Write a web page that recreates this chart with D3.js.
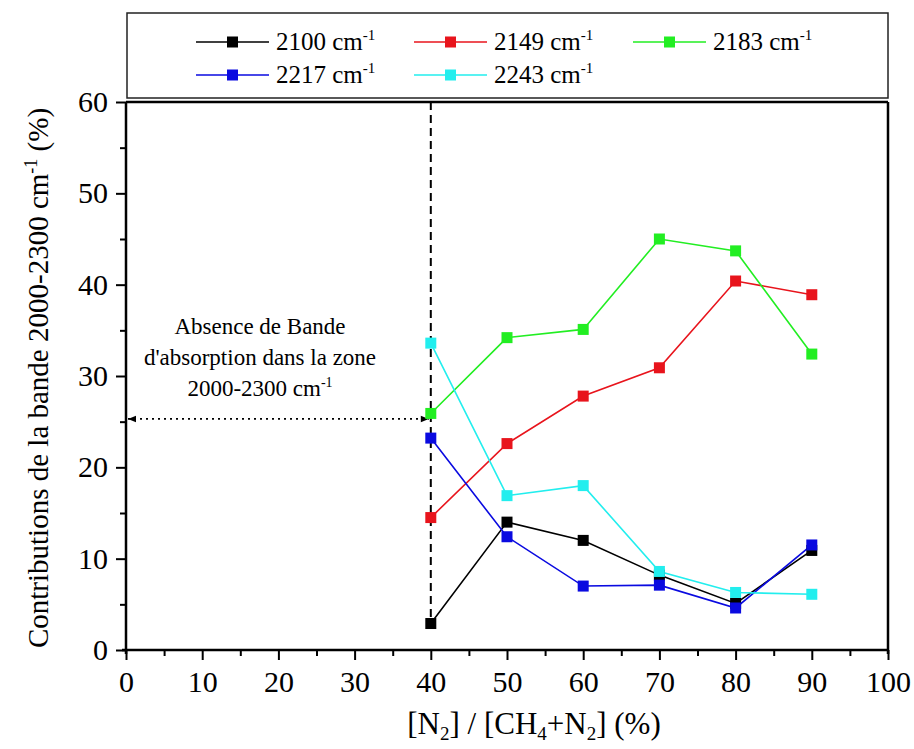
<!DOCTYPE html>
<html>
<head>
<meta charset="utf-8">
<script src="https://cdn.jsdelivr.net/npm/d3@7/dist/d3.min.js"></script>
<style>
body { margin: 0; background: #fff; }
svg { display: block; }
</style>
</head>
<body>
<svg id="chart" width="914" height="749"></svg>
<script>
const xValues = [40, 50, 60, 70, 80, 90];
const seriesNames = ["2100", "2149", "2183", "2217", "2243"];
const seriesColors = ["#000000", "#e8141c", "#22ee22", "#0a0ae0", "#22eeee"];
const s2100 = [2.9, 14.0, 12.0, 8.2, 5.1, 10.9];
const s2149 = [14.5, 22.6, 27.8, 30.9, 40.4, 38.9];
const s2183 = [25.9, 34.2, 35.1, 45.0, 43.7, 32.4];
const s2217 = [23.2, 12.4, 7.0, 7.1, 4.6, 11.5];
const s2243 = [33.6, 16.9, 18.0, 8.6, 6.3, 6.1];
const seriesValues = [s2100, s2149, s2183, s2217, s2243];
const xTicks = [0, 10, 20, 30, 40, 50, 60, 70, 80, 90, 100];
const yTicks = [0, 10, 20, 30, 40, 50, 60];
const annotationLines = ["Absence de Bande", "d'absorption dans la zone"];
const arrowLevel = 25.3;
const thresholdX = 40;

const FONT = "'Liberation Serif', 'Times New Roman', serif";
const svg = d3.select("#chart");
const L = 126, R = 888, T = 102, B = 650;
const x = d3.scaleLinear().domain([0, 100]).range([L, R]);
const y = d3.scaleLinear().domain([0, 60]).range([B, T]);

const defs = svg.append("defs");
defs.append("marker").attr("id", "ah").attr("viewBox", "0 0 10 10")
  .attr("refX", 10).attr("refY", 5).attr("markerWidth", 12).attr("markerHeight", 8)
  .attr("markerUnits", "userSpaceOnUse").attr("orient", "auto-start-reverse")
  .append("path").attr("d", "M0,1 L10,5 L0,9 z").attr("fill", "#000");

// frame
svg.append("line").attr("x1", L).attr("x2", R).attr("y1", T).attr("y2", T).attr("stroke", "#000").attr("stroke-width", 2.5);
svg.append("line").attr("x1", R).attr("x2", R).attr("y1", T).attr("y2", B + 4).attr("stroke", "#000").attr("stroke-width", 2.5);

// axes
const xAxis = d3.axisBottom(x).tickValues(xTicks).tickSize(10).tickPadding(6).tickFormat(d3.format("d"));
const gx = svg.append("g").attr("transform", `translate(0,${B})`).call(xAxis);
gx.select(".domain").attr("stroke-width", 2.5).attr("d", `M${L - 4},0H${R}`);
gx.selectAll(".tick line").attr("stroke-width", 2);
gx.selectAll(".tick text").style("font-size", "30px").attr("dy", "0.88em");
const gxm = svg.append("g").attr("transform", `translate(0,${B})`)
  .call(d3.axisBottom(x).tickValues(d3.range(5, 100, 10)).tickSize(6).tickFormat(""));
gxm.select(".domain").remove();
gxm.selectAll(".tick line").attr("stroke-width", 2);

const yAxis = d3.axisLeft(y).tickValues(yTicks).tickSize(10).tickPadding(8).tickFormat(d3.format("d"));
const gy = svg.append("g").attr("transform", `translate(${L},0)`).call(yAxis);
gy.select(".domain").attr("stroke-width", 2.5).attr("d", `M0,${T}V${B + 4}`);
gy.selectAll(".tick line").attr("stroke-width", 2);
gy.selectAll(".tick text").style("font-size", "30px");
const gym = svg.append("g").attr("transform", `translate(${L},0)`)
  .call(d3.axisLeft(y).tickValues(d3.range(5, 60, 10)).tickSize(6).tickFormat(""));
gym.select(".domain").remove();
gym.selectAll(".tick line").attr("stroke-width", 2);

// axis titles
const xt = svg.append("text").attr("x", 534).attr("y", 734).attr("text-anchor", "middle").style("font-size", "31px");
xt.append("tspan").text("[N");
xt.append("tspan").attr("dy", 6).style("font-size", "19px").text("2");
xt.append("tspan").attr("dy", -6).text("] / [CH");
xt.append("tspan").attr("dy", 6).style("font-size", "19px").text("4");
xt.append("tspan").attr("dy", -6).text("+N");
xt.append("tspan").attr("dy", 6).style("font-size", "19px").text("2");
xt.append("tspan").attr("dy", -6).text("] (%)");

const yt = svg.append("text").attr("transform", "translate(48,378) rotate(-90)").attr("text-anchor", "middle").style("font-size", "29px");
yt.append("tspan").text("Contributions de la bande 2000-2300 cm");
yt.append("tspan").attr("dy", -11).style("font-size", "18px").text("-1");
yt.append("tspan").attr("dy", 11).text(" (%)");

// dashed vertical line
svg.append("line").attr("x1", x(thresholdX)).attr("x2", x(thresholdX))
  .attr("y1", y(60)).attr("y2", y(s2100[0]))
  .attr("stroke", "#000").attr("stroke-width", 2).attr("stroke-dasharray", "8,5");

// dotted double arrow
svg.append("line").attr("x1", x(0) + 2).attr("x2", x(thresholdX) - 2)
  .attr("y1", y(arrowLevel)).attr("y2", y(arrowLevel))
  .attr("stroke", "#000").attr("stroke-width", 1.8).attr("stroke-dasharray", "2,4")
  .attr("marker-start", "url(#ah)").attr("marker-end", "url(#ah)");

// annotation
const ann = svg.append("g").attr("text-anchor", "middle");
annotationLines.forEach((t, i) => {
  ann.append("text").attr("x", 260).attr("y", 334 + i * 31).style("font-size", "23px").text(t);
});
const a3 = ann.append("text").attr("x", 260).attr("y", 396).style("font-size", "23px");
a3.append("tspan").text("2000-2300 cm");
a3.append("tspan").attr("dy", -9).style("font-size", "14px").text("-1");

// series
const line = d3.line().x((d, i) => x(xValues[i])).y(d => y(d));
seriesValues.forEach((vals, k) => {
  svg.append("path").datum(vals).attr("d", line).attr("fill", "none")
    .attr("stroke", seriesColors[k]).attr("stroke-width", 1.6);
});
seriesValues.forEach((vals, k) => {
  svg.append("g").selectAll("rect").data(vals).join("rect")
    .attr("x", (d, i) => x(xValues[i]) - 5.5).attr("y", d => y(d) - 5.5)
    .attr("width", 11).attr("height", 11).attr("fill", seriesColors[k]);
});

// legend
svg.append("rect").attr("x", 127).attr("y", 13).attr("width", 761).attr("height", 85)
  .attr("fill", "#fff").attr("stroke", "#222").attr("stroke-width", 1.5);
const legPos = [[196, 42], [414, 42], [633, 42], [196, 75], [414, 75]];
seriesNames.forEach((n, k) => {
  const [lx, ly] = legPos[k];
  const g = svg.append("g");
  g.append("line").attr("x1", lx).attr("x2", lx + 73).attr("y1", ly).attr("y2", ly)
    .attr("stroke", seriesColors[k]).attr("stroke-width", 1.6);
  g.append("rect").attr("x", lx + 36.5 - 5.5).attr("y", ly - 5.5).attr("width", 11).attr("height", 11).attr("fill", seriesColors[k]);
  const t = g.append("text").attr("x", lx + 80).attr("y", ly + 8).style("font-size", "25px");
  t.append("tspan").text(n + " cm");
  t.append("tspan").attr("dy", -10).style("font-size", "15px").text("-1");
});

svg.selectAll("text").style("font-family", FONT).attr("fill", "#000");
svg.selectAll("g").attr("font-family", null);
</script>
</body>
</html>
